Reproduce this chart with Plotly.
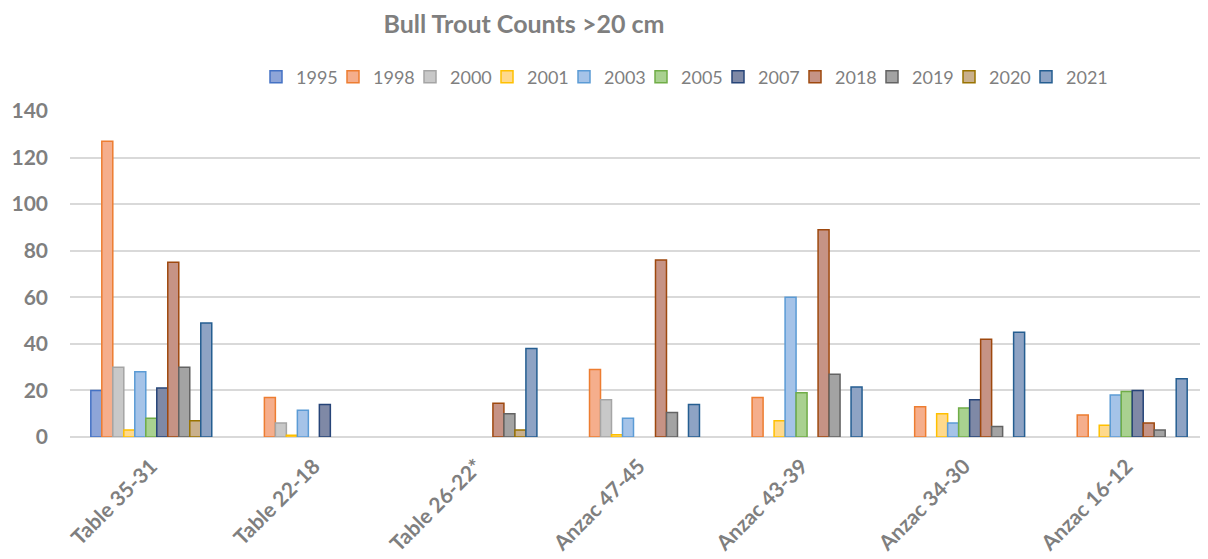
import plotly.graph_objects as go

categories = ["Table 35-31", "Table 22-18", "Table 26-22*", "Anzac 47-45",
              "Anzac 43-39", "Anzac 34-30", "Anzac 16-12"]

years = ["1995", "1998", "2000", "2001", "2003", "2005", "2007",
         "2018", "2019", "2020", "2021"]

v1995 = [20, None, None, None, None, None, None]
v1998 = [127, 17, None, 29, 17, 13, 9.5]
v2000 = [30, 6, None, 16, None, None, None]
v2001 = [3, 0.7, None, 1, 7, 10, 5]
v2003 = [28, 11.5, None, 8, 60, 6, 18]
v2005 = [8, None, None, None, 19, 12.5, 19.5]
v2007 = [21, 14, None, None, None, 16, 20]
v2018 = [75, None, 14.5, 76, 89, 42, 6]
v2019 = [30, None, 10, 10.5, 27, 4.5, 3]
v2020 = [7, None, 3, None, None, None, None]
v2021 = [49, None, 38, 14, 21.5, 45, 25]

series = [v1995, v1998, v2000, v2001, v2003, v2005, v2007, v2018, v2019, v2020, v2021]

fills = ["#8EA5D8", "#F5AE8C", "#C8C8C8", "#FFD98C", "#A5C3E8", "#A9D190",
         "#7F89A6", "#C69385", "#A3A3A3", "#C9B08C", "#8EA3C4"]
borders = ["#4472C4", "#ED7D31", "#A5A5A5", "#FFC000", "#5B9BD5", "#70AD47",
           "#264478", "#9E480E", "#636363", "#997300", "#255E91"]

FONT = "Lato, 'Open Sans', sans-serif"
GRAY = "#7F7F7F"

# page body has an 8px margin; figure is sized/offset to compensate
W, H = 1200, 551

fig = go.Figure()
for i, (yr, vals, fc, bc) in enumerate(zip(years, series, fills, borders)):
    fig.add_trace(go.Bar(
        name=yr, x=categories, y=vals,
        marker=dict(color=fc, line=dict(color=bc, width=1.5)),
        legendwidth=50 if i == len(years) - 1 else None,
    ))

fig.update_layout(
    width=W, height=H,
    barmode="group", bargap=0.256, bargroupgap=0,
    plot_bgcolor="white", paper_bgcolor="white",
    margin=dict(l=62, r=0, t=103, b=122, autoexpand=False),
    title=dict(text="<b>Bull Trout Counts >20 cm</b>", x=516 / W, xref="container",
               xanchor="center", y=1 - 16 / H, yref="container", yanchor="middle",
               font=dict(family=FONT, size=25, color=GRAY)),
    legend=dict(orientation="h", x=248 / W, xref="container", xanchor="left",
                y=1 - 69 / H, yref="container", yanchor="middle",
                font=dict(family=FONT, size=18, color=GRAY),
                entrywidth=32, entrywidthmode="pixels",
                bgcolor="rgba(0,0,0,0)"),
    showlegend=True,
)

fig.update_yaxes(range=[0, 140], dtick=20, showgrid=True, gridcolor="#D9D9D9",
                 gridwidth=1.5, zeroline=True, zerolinecolor="#D9D9D9", zerolinewidth=2,
                 showline=False, ticklabelstandoff=21, automargin=False,
                 tickfont=dict(family=FONT, size=21, color=GRAY, weight="bold"))
fig.update_xaxes(showline=False, showgrid=False, tickangle=-45, automargin=False,
                 ticklabelstandoff=12,
                 tickfont=dict(family=FONT, size=21, color=GRAY, weight="bold"))

fig.write_html("out.html")
